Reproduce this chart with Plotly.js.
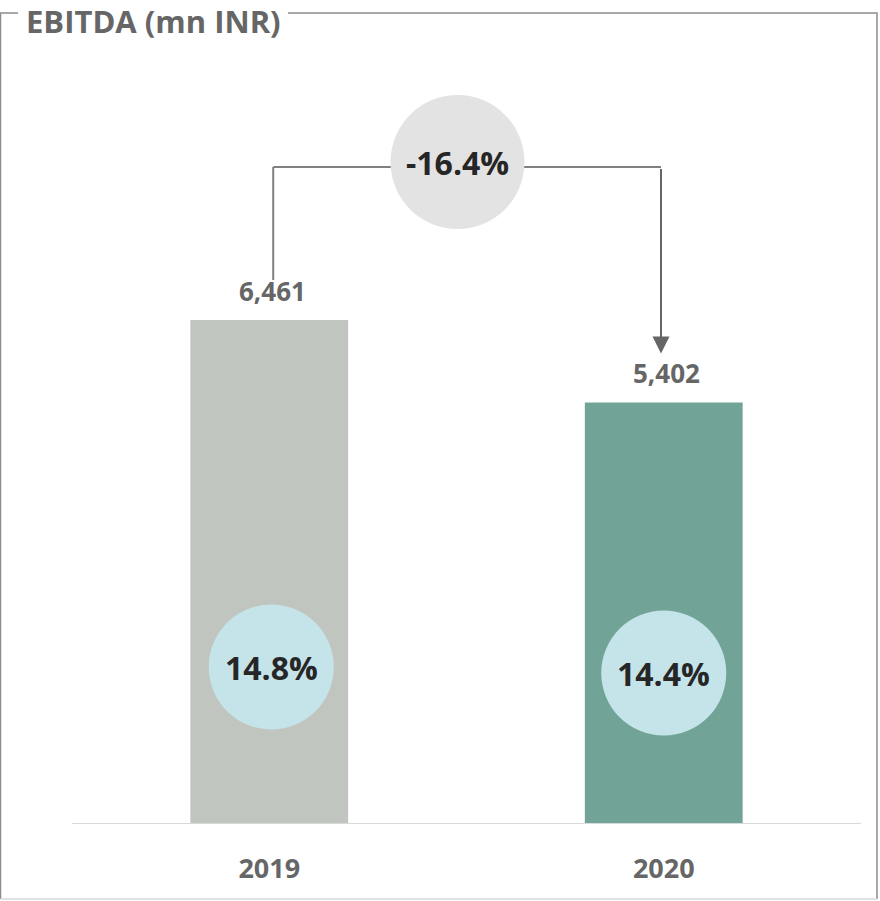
<!DOCTYPE html>
<html>
<head>
<meta charset="utf-8">
<script src="https://cdn.plot.ly/plotly-3.0.1.min.js"></script>
<style>
  html, body { margin: 0; padding: 0; background: #fff; }
  #chart { width: 880px; height: 901px; }
</style>
</head>
<body>
<div id="chart"></div>
<script>
// data
const years = ['2019', '2020'];
const ebitda = [6461, 5402];
const margins = ['14.8%', '14.4%'];
const growthLabel = '-16.4%';
const barColors = ['#c0c5bf', '#72a397'];

const W = 880, H = 901;
const M = { l: 72, r: 19, t: 60, b: 78 };
const plotW = W - M.l - M.r;
const plotH = H - M.t - M.b;

// pixel -> paper helpers for the frame and title
const px = x => (x - M.l) / plotW;
const py = y => (H - M.b - y) / plotH;

const fontFam = '"Open Sans", "Noto Sans", sans-serif';
const topVal = Math.max(...ebitda);

const trace = {
    type: 'bar',
    x: years.map((_, i) => i),
    y: ebitda,
    width: 0.4,
    marker: { color: barColors },
    hoverinfo: 'skip'
};

const shapes = [
    // outer frame, gap left for the title
    {
        type: 'path', xref: 'paper', yref: 'paper',
        path: `M ${px(18)} ${py(13)} L ${px(0.5)} ${py(13)} L ${px(0.5)} ${py(899)} ` +
              `M ${px(877)} ${py(899)} L ${px(877)} ${py(13)} L ${px(288)} ${py(13)}`,
        line: { color: '#8c8c8c', width: 1.5 }
    },
    {
        type: 'line', xref: 'paper', yref: 'paper',
        x0: px(0.5), x1: px(877), y0: py(899), y1: py(899),
        line: { color: '#d9d9d9', width: 1.5 }
    },
    // connector: up from 2019, across
    {
        type: 'line', xref: 'x', yref: 'y', ysizemode: 'pixel', yanchor: ebitda[0],
        x0: 0.01, x1: 0.01, y0: 40, y1: 153,
        line: { color: '#808080', width: 2 }
    },
    {
        type: 'line', xref: 'x', yref: 'y', ysizemode: 'pixel', yanchor: topVal,
        x0: 0.01, x1: 0.993, y0: 153, y1: 153,
        line: { color: '#808080', width: 2 }
    },
    // growth bubble
    {
        type: 'circle', xref: 'x', yref: 'y',
        xsizemode: 'pixel', ysizemode: 'pixel', xanchor: 0.5, yanchor: topVal,
        x0: -76, x1: 58, y0: 91, y1: 225,
        fillcolor: '#e3e3e3', line: { width: 0 }
    }
];

// margin bubbles inside bars
const bubbleOff = [{ dx: 2, dy: 156 }, { dx: 0, dy: 150 }];
years.forEach((_, i) => {
    const o = bubbleOff[i];
    shapes.push({
        type: 'circle', xref: 'x', yref: 'y',
        xsizemode: 'pixel', ysizemode: 'pixel', xanchor: i, yanchor: 0,
        x0: o.dx - 62.5, x1: o.dx + 62.5, y0: o.dy - 62.5, y1: o.dy + 62.5,
        fillcolor: '#c5e4ea', line: { width: 0 }
    });
});

const annotations = [
    {
        text: 'EBITDA (mn INR)', xref: 'paper', yref: 'paper',
        x: px(24), y: py(21), xanchor: 'left', yanchor: 'middle', showarrow: false,
        font: { family: fontFam, size: 31, color: '#666666', weight: 'bold' }
    },
    {
        text: growthLabel, xref: 'x', yref: 'y', x: 0.5, y: topVal,
        xshift: -9, yshift: 158, showarrow: false,
        font: { family: fontFam, size: 32, color: '#262626', weight: 'bold' }
    },
    // arrow down to 2020
    {
        text: '', xref: 'x', yref: 'y', x: 0.993, y: ebitda[1], yshift: 49,
        ax: 0, ay: -186, showarrow: true,
        arrowhead: 2, arrowsize: 1.7, arrowwidth: 2, arrowcolor: '#666666'
    }
];

years.forEach((_, i) => {
    annotations.push({
        text: ebitda[i].toLocaleString('en-US'), xref: 'x', yref: 'y',
        x: i, y: ebitda[i], xshift: 3, yshift: 29, yanchor: 'middle', showarrow: false,
        font: { family: fontFam, size: 26, color: '#666666', weight: 'bold' }
    });
    const o = bubbleOff[i];
    annotations.push({
        text: margins[i], xref: 'x', yref: 'y',
        x: i, y: 0, xshift: o.dx, yshift: o.dy, yanchor: 'middle', showarrow: false,
        font: { family: fontFam, size: 32, color: '#262626', weight: 'bold' }
    });
});

const layout = {
    width: W,
    height: H,
    margin: M,
    paper_bgcolor: '#ffffff',
    plot_bgcolor: '#ffffff',
    showlegend: false,
    hovermode: false,
    xaxis: {
        range: [-0.5, 1.5],
        tickvals: years.map((_, i) => i),
        ticktext: years,
        showgrid: false,
        zeroline: false,
        showline: true,
        linecolor: '#d9d9d9',
        linewidth: 1,
        ticks: '',
        ticklabelstandoff: 22,
        tickfont: { family: fontFam, size: 27, color: '#666666', weight: 'bold' },
        fixedrange: true
    },
    yaxis: {
        range: [0, 9801],
        visible: false,
        fixedrange: true
    },
    shapes: shapes,
    annotations: annotations
};

Plotly.newPlot('chart', [trace], layout, { displayModeBar: false, staticPlot: true });
</script>
</body>
</html>
